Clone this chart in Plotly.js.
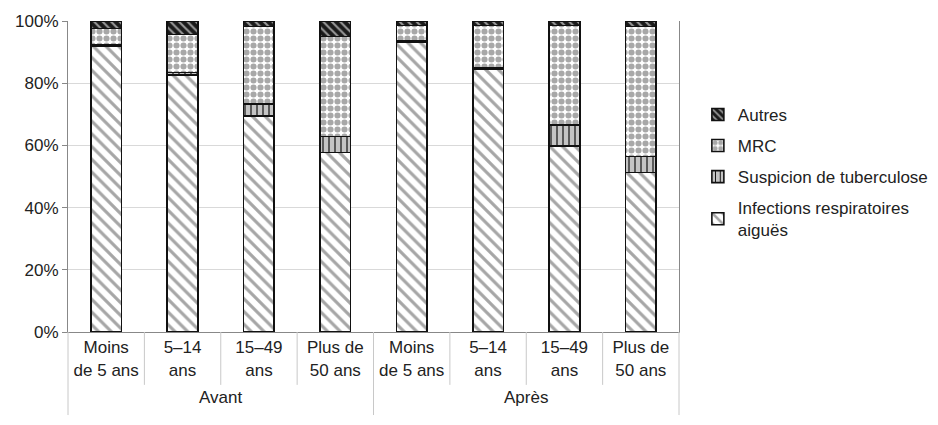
<!DOCTYPE html>
<html>
<head>
<meta charset="utf-8">
<script src="https://cdn.plot.ly/plotly-3.0.1.min.js"></script>
<style>html,body{margin:0;padding:0;background:#fff}#chart{width:938px;height:425px}</style>
</head>
<body>
<div id="chart"></div>
<script>
const groups = ["Avant","Après"];
const ageLabels = ["Moins<br>de 5 ans","5–14<br>ans","15–49<br>ans","Plus de<br>50 ans"];
const ira = [92.0, 82.6, 69.5, 57.7, 93.2, 84.5, 59.8, 51.3];
const tuberculose = [0.3, 0.9, 3.8, 5.2, 0.3, 0.4, 6.8, 5.1];
const mrc = [5.3, 12.2, 24.9, 32.1, 5.0, 13.6, 31.9, 41.8];
const autres = [2.4, 4.3, 1.8, 5.0, 1.5, 1.5, 1.5, 1.8];
const seriesNames = ["Infections respiratoires<br>aiguës","Suspicion de tuberculose","MRC","Autres"];

const FONT = "Liberation Sans, Arial, sans-serif";
// unique category keys (second group gets an invisible zero-width suffix)
const x = [];
groups.forEach((g, gi) => ageLabels.forEach(a => x.push(a + "\u200b".repeat(gi))));

const line = {color:"#111", width:1.6};
function bar(y, name, pattern, rank){
  return {type:"bar", x:x, y:y, name:name, width:0.4, legendrank:rank, legendgroup:"g"+rank,
    marker:{color:"white", line:line, pattern:pattern},
    hoverinfo:"skip"};
}
const traces = [
  bar(ira, seriesNames[0], {shape:"\\", fgcolor:"#a6a6a6", bgcolor:"white", size:9, solidity:0.35, fillmode:"replace"}, 4),
  bar(tuberculose, seriesNames[1], {shape:"|", fgcolor:"#111", bgcolor:"#c4c4c4", size:6, solidity:0.2, fillmode:"replace"}, 3),
  bar(mrc, seriesNames[2], {shape:".", fgcolor:"#a8a8a8", bgcolor:"white", size:7, solidity:0.6, fillmode:"replace"}, 2),
  bar(autres, seriesNames[3], {shape:"\\", fgcolor:"#9a9a9a", bgcolor:"#1a1a1a", size:6, solidity:0.35, fillmode:"replace"}, 1)
];

const n = x.length;
const shapes = [];
for (let k = 0; k <= n; k++) {
  const isGroup = (k % ageLabels.length === 0);
  shapes.push({type:"line", xref:"paper", yref:"paper", x0:k/n, x1:k/n, y0:0, y1: isGroup ? -0.267 : -0.17,
    line:{color:"#c8c8c8", width:1}});
}
const annotations = groups.map((g, gi) => ({
  text:g, xref:"paper", yref:"paper", x:(gi + 0.5)/groups.length, y:-0.212,
  xanchor:"center", yanchor:"middle", showarrow:false,
  font:{family:FONT, size:17, color:"#222"}
}));

const layout = {
  width:938, height:425,
  margin:{l:68, r:259, t:21, b:93},
  barmode:"stack",
  paper_bgcolor:"white", plot_bgcolor:"white",
  font:{family:FONT, size:17, color:"#222"},
  showlegend:true,
  legend:{xref:"container", yref:"container", x:0.744, xanchor:"left", y:0.772, yanchor:"top",
    traceorder:"grouped", tracegroupgap:6, itemwidth:30,
    font:{family:FONT, size:17, color:"#222"}, bgcolor:"rgba(0,0,0,0)"},
  xaxis:{type:"category", showline:true, linecolor:"#888", linewidth:1,
    ticks:"", tickfont:{family:FONT, size:17, color:"#222"}, showgrid:false},
  yaxis:{range:[0,100], dtick:20, ticksuffix:"%", ticks:"outside", ticklen:5, tickcolor:"#888",
    showline:true, linecolor:"#888", linewidth:1, mirror:true,
    gridcolor:"#d9d9d9", gridwidth:1, zeroline:false,
    tickfont:{family:FONT, size:17, color:"#222"}},
  shapes:shapes,
  annotations:annotations
};
Plotly.newPlot("chart", traces, layout, {staticPlot:true, displayModeBar:false});
</script>
</body>
</html>
